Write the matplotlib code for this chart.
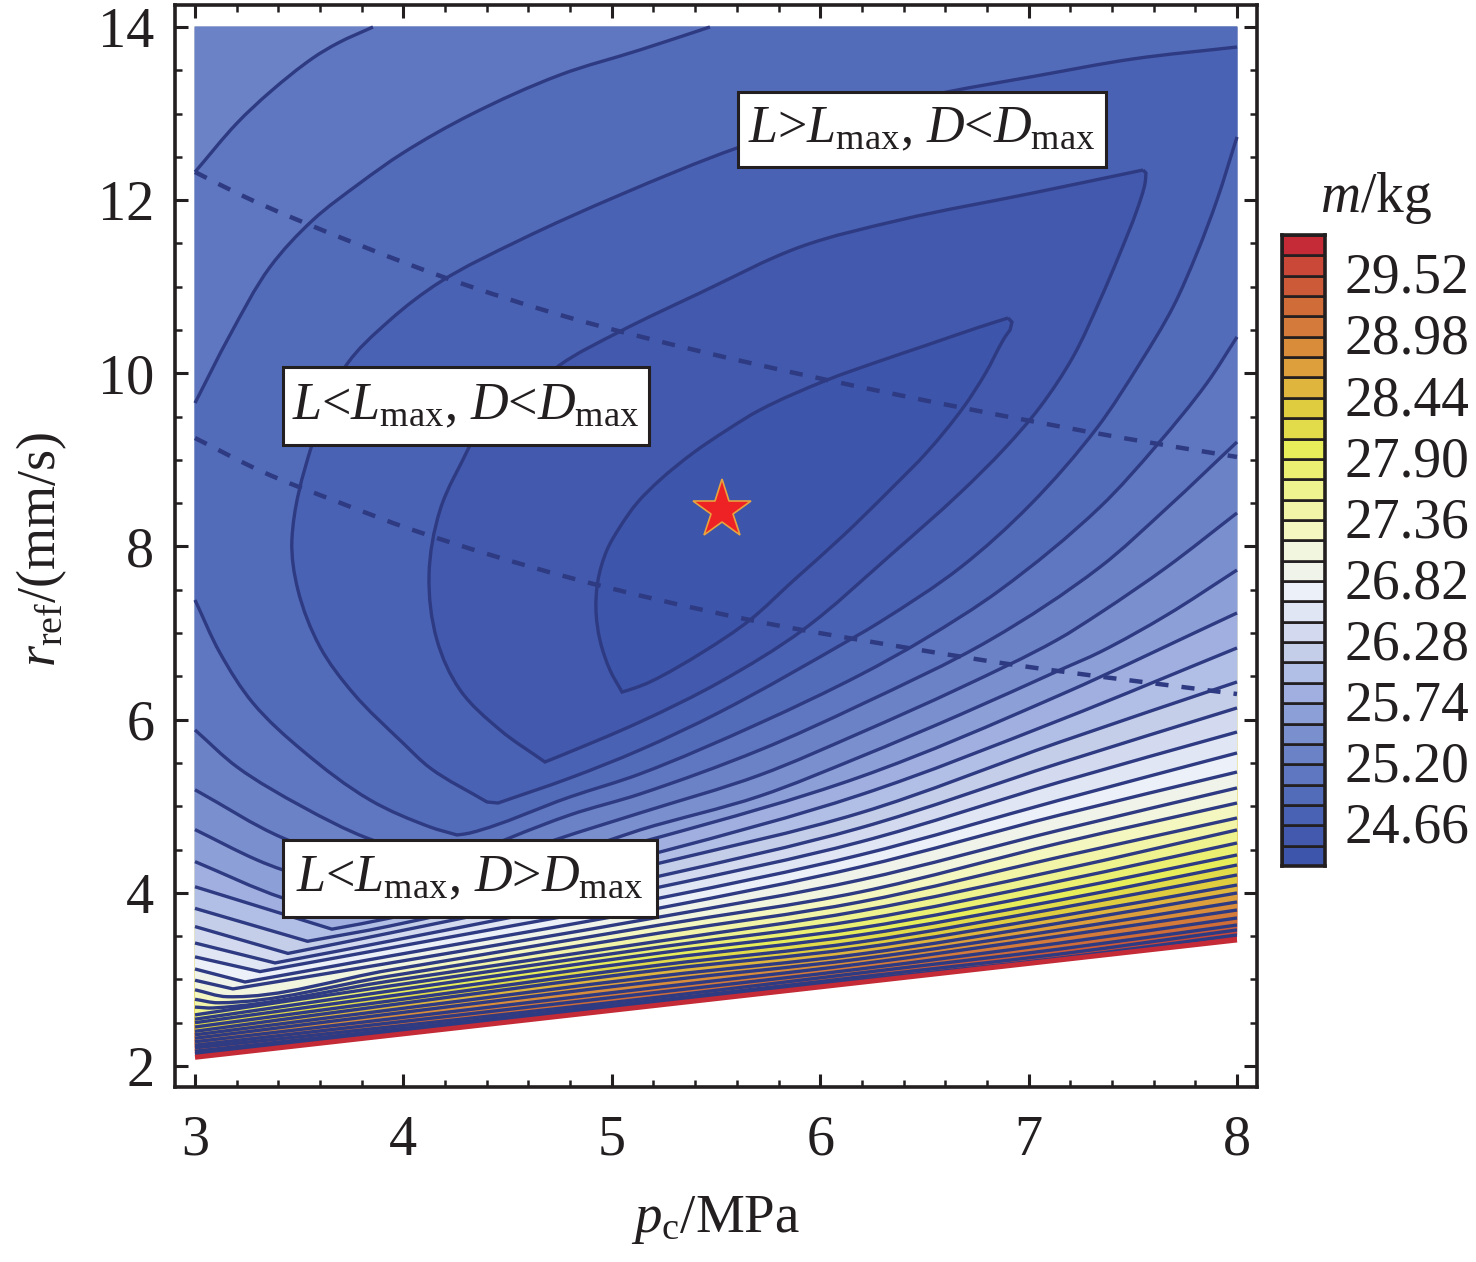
import math
import matplotlib
matplotlib.use('Agg')
import matplotlib.pyplot as plt
from matplotlib.patches import Rectangle, PathPatch
from matplotlib.path import Path
from matplotlib.ticker import MultipleLocator
from matplotlib.transforms import ScaledTranslation

plt.rcParams['font.family'] = ['Liberation Serif', 'DejaVu Serif']
plt.rcParams['mathtext.fontset'] = 'custom'
plt.rcParams['mathtext.rm'] = 'Liberation Serif'
plt.rcParams['mathtext.it'] = 'Liberation Serif:italic'

# colour bar
levels = [24.30, 24.48, 24.66, 24.84, 25.02, 25.20, 25.38, 25.56, 25.74, 25.92, 26.10,
          26.28, 26.46, 26.64, 26.82, 27.00, 27.18, 27.36, 27.54, 27.72, 27.90,
          28.08, 28.26, 28.44, 28.62, 28.80, 28.98, 29.16, 29.34, 29.52, 29.70, 29.88]
colors = ['#3d55ab', '#4259ad', '#4a62b4', '#526cba', '#5f77c0', '#6b82c6', '#7a8fcd', '#8d9fd7',
          '#a0afe0', '#b1bee5', '#c4cee9', '#d3daf0', '#e0e6f4', '#ecf0f8', '#eff3ea', '#f3f6df',
          '#f5f7c0', '#f2f4a8', '#eef38f', '#ebf073', '#e8ee5a', '#e3dc4a', '#e0cd3f', '#dfb53e',
          '#dd9f3c', '#d98d3a', '#d47a3a', '#cf6c38', '#cc5a38', '#c94838', '#c42b36']
cbar_ticks = [24.66, 25.20, 25.74, 26.28, 26.82, 27.36, 27.90, 28.44, 28.98, 29.52]
cbar_labels = ['24.66', '25.20', '25.74', '26.28', '26.82', '27.36', '27.90', '28.44', '28.98', '29.52']

# inner closed contours
l1_pc = [6.901, 6.920, 6.911, 6.887, 6.791, 6.685, 6.513, 6.349, 6.109, 5.869, 5.663, 5.438, 5.183, 5.111, 5.049,
         4.991, 4.943, 4.924, 4.934, 4.977, 5.039, 5.121, 5.231, 5.390, 5.553, 5.711, 6.033, 6.273, 6.513, 6.752, 6.901]
l1_r = [10.639, 10.593, 10.500, 10.420, 9.992, 9.600, 9.091, 8.687, 8.122, 7.601, 7.151, 6.782, 6.435, 6.366, 6.319,
        6.574, 6.920, 7.267, 7.613, 7.960, 8.225, 8.502, 8.768, 9.080, 9.346, 9.577, 9.923, 10.131, 10.327, 10.524, 10.639]
l2_pc = [7.549, 7.563, 7.559, 7.520, 7.439, 7.343, 7.213, 7.055, 6.887, 6.671, 6.349, 5.917, 5.519, 5.135, 4.727, 4.679,
         4.464, 4.272, 4.161, 4.123, 4.176, 4.320, 4.751, 5.025, 5.423, 5.903, 6.383, 7.021, 7.549]
l2_r = [12.348, 12.314, 12.198, 11.886, 11.390, 10.847, 10.189, 9.611, 9.138, 8.618, 7.925, 7.036, 6.435, 5.973, 5.557, 5.511,
        5.880, 6.342, 6.920, 7.671, 8.422, 9.172, 10.096, 10.466, 10.928, 11.459, 11.771, 12.083, 12.348]
l3_pc = [8.0, 7.501, 7.021, 6.608, 6.143, 5.601, 5.039, 4.560, 4.176, 3.936, 3.720, 3.561, 3.465, 3.494, 3.600, 3.758,
         3.998, 4.128, 4.401, 4.454, 4.799, 5.135, 5.519, 6.157, 6.287, 6.671, 7.007, 7.328, 7.535, 7.693, 7.808, 7.904, 8.0]
l3_r = [13.769, 13.631, 13.428, 13.249, 13.007, 12.603, 12.060, 11.540, 11.055, 10.616, 10.073, 9.172, 8.075, 7.497, 6.839, 6.308,
        5.730, 5.442, 5.049, 5.037, 5.326, 5.650, 6.088, 6.943, 7.128, 7.754, 8.480, 9.369, 10.119, 10.766, 11.390, 12.002, 12.730]

# contours in two pieces
l4_up_pc = [3.0, 3.168, 3.360, 3.566, 3.792, 3.998, 4.320, 4.751, 5.135, 5.471]
l4_up_r = [9.657, 10.443, 11.228, 11.771, 12.198, 12.545, 12.984, 13.446, 13.735, 14.0]
l4_low_pc = [3.0, 3.120, 3.278, 3.518, 3.840, 4.128, 4.257, 4.320, 4.799, 5.135, 5.711, 6.191, 6.493, 6.863, 7.343, 7.616, 7.856, 8.0]
l4_low_r = [7.382, 6.770, 6.192, 5.638, 5.072, 4.760, 4.668, 4.691, 5.107, 5.373, 5.961, 6.516, 6.920, 7.497, 8.456, 9.172, 9.888, 10.420]
l5_up_pc = [3.0, 3.202, 3.360, 3.566, 3.686, 3.854]
l5_up_r = [12.325, 12.891, 13.249, 13.642, 13.815, 14.0]
l5_low_pc = [3.0, 3.202, 3.518, 3.825, 4.224, 4.799, 5.135, 5.711, 6.191, 6.815, 7.343, 7.664, 8.0]
l5_low_r = [5.881, 5.453, 4.991, 4.633, 4.356, 4.899, 5.141, 5.650, 6.169, 6.920, 7.763, 8.445, 9.207]

# single lines across the plot
l6_pc = [3.0, 3.422, 4.128, 4.727, 5.135, 5.711, 6.191, 6.671, 7.136, 7.343, 7.664, 8.0]
l6_r = [5.19, 4.633, 4.090, 4.610, 4.922, 5.361, 5.846, 6.366, 6.920, 7.232, 7.763, 8.387]
l7_pc = [3.0, 3.298, 3.422, 3.984, 4.991, 5.135, 5.711, 6.191, 6.671, 7.151, 7.343, 7.664, 8.0]
l7_r = [4.73, 4.379, 4.264, 3.883, 4.610, 4.726, 5.118, 5.569, 6.057, 6.574, 6.781, 7.209, 7.728]
l8_pc = [3.0, 3.422, 3.744, 5.231, 6.191, 7.151, 8.0]
l8_r = [4.36, 3.940, 3.744, 4.645, 5.338, 6.285, 7.232]

# the dense fan at the bottom, levels 9 to 30, read along fixed pc columns
fan_left = [4.07, 3.82, 3.61, 3.42, 3.26, 3.12, 2.99, 2.88, 2.77, 2.68, 2.59,
            2.54, 2.50, 2.45, 2.40, 2.36, 2.32, 2.28, 2.24, 2.21, 2.17, 2.14]
kink_pc = [3.657, 3.54, 3.446, 3.384, 3.312, 3.240, 3.182, 3.154, 3.110, 3.086]
kink_r = [3.58, 3.44, 3.30, 3.19, 3.09, 2.97, 2.89, 2.80, 2.73, 2.67]
fan_pc = [3.936, 5.231, 6.191, 7.151, 8.0]
fan_394 = [3.709, 3.617, 3.536, 3.443, 3.363, 3.270, 3.189, 3.108, 3.039, 2.981, 2.924,
           2.866, 2.808, 2.751, 2.704, 2.647, 2.600, 2.543, 2.497, 2.451, 2.416, 2.392]
fan_523 = [4.471, 4.344, 4.194, 4.067, 3.940, 3.825, 3.721, 3.628, 3.536, 3.443, 3.374,
           3.305, 3.236, 3.166, 3.109, 3.039, 2.981, 2.912, 2.854, 2.797, 2.762, 2.739]
fan_619 = [5.130, 4.922, 4.749, 4.587, 4.437, 4.298, 4.148, 4.009, 3.894, 3.790, 3.686,
           3.594, 3.513, 3.432, 3.363, 3.293, 3.236, 3.178, 3.120, 3.074, 3.028, 2.993]
fan_715 = [5.996, 5.742, 5.499, 5.280, 5.072, 4.899, 4.725, 4.575, 4.414, 4.264, 4.136,
           4.021, 3.917, 3.825, 3.732, 3.651, 3.571, 3.501, 3.420, 3.351, 3.293, 3.247]
fan_800 = [6.828, 6.435, 6.135, 5.857, 5.615, 5.395, 5.211, 5.037, 4.864, 4.726, 4.575,
           4.437, 4.321, 4.206, 4.090, 3.998, 3.894, 3.801, 3.709, 3.628, 3.571, 3.513]

# lower limit of the data and the two dashed limits
edge_pc = [3.0, 8.0]
edge_r = [2.10, 3.455]
dash1_pc = [3.0, 3.240, 3.470, 4.204, 4.785, 5.438, 6.033, 6.685, 7.453, 8.0]
dash1_r = [12.325, 12.037, 11.794, 11.101, 10.651, 10.246, 9.923, 9.600, 9.253, 9.034]
dash2_pc = [3.0, 3.326, 3.686, 4.046, 4.785, 5.663, 6.421, 6.935, 8.0]
dash2_r = [9.253, 8.860, 8.514, 8.190, 7.648, 7.151, 6.828, 6.631, 6.296]
best_pc = 5.529
best_r = 8.42

line_color = '#2e3a82'
ink = '#231f20'
W = 1476.0
H = 1262.0
LW = 2.4
# pixels per data unit, only used to judge corners when bending the lines
SX = 208.4
SY = 86.6


def unit(dx, dy):
    n = math.hypot(dx, dy)
    if n == 0:
        return 0.0, 0.0
    return dx / n, dy / n


# bezier segments through the read points, sharp corners stay sharp
def curve_segments(xs, ys):
    n = len(xs)
    px = [x * SX for x in xs]
    py = [y * SY for y in ys]
    t_in = [None] * n
    t_out = [None] * n
    for i in range(n):
        if i == 0:
            t_in[i] = t_out[i] = unit(px[1] - px[0], py[1] - py[0])
        elif i == n - 1:
            t_in[i] = t_out[i] = unit(px[i] - px[i - 1], py[i] - py[i - 1])
        else:
            d1 = unit(px[i] - px[i - 1], py[i] - py[i - 1])
            d2 = unit(px[i + 1] - px[i], py[i + 1] - py[i])
            if d1[0] * d2[0] + d1[1] * d2[1] < 0.93:
                t_in[i] = d1
                t_out[i] = d2
            else:
                t_in[i] = t_out[i] = unit(d1[0] + d2[0], d1[1] + d2[1])
    verts = []
    for i in range(n - 1):
        h = math.hypot(px[i + 1] - px[i], py[i + 1] - py[i]) / 3
        verts.append(((px[i] + t_out[i][0] * h) / SX, (py[i] + t_out[i][1] * h) / SY))
        verts.append(((px[i + 1] - t_in[i + 1][0] * h) / SX, (py[i + 1] - t_in[i + 1][1] * h) / SY))
        verts.append((xs[i + 1], ys[i + 1]))
    return verts


def line_path(xs, ys):
    seg = curve_segments(xs, ys)
    return Path([(xs[0], ys[0])] + seg, [Path.MOVETO] + [Path.CURVE4] * len(seg))


# pieces are (xs, ys) curves, joined by straight runs, then closed
def fill_path(pieces):
    verts = []
    codes = []
    for xs, ys in pieces:
        verts.append((xs[0], ys[0]))
        codes.append(Path.LINETO if verts[:-1] else Path.MOVETO)
        if len(xs) > 1:
            seg = curve_segments(xs, ys)
            verts += seg
            codes += [Path.CURVE4] * len(seg)
    verts.append(verts[0])
    codes.append(Path.CLOSEPOLY)
    return Path(verts, codes)


def draw_fill(ax, pieces, color):
    ax.add_patch(PathPatch(fill_path(pieces), fc=color, ec=color, lw=0.3))


def draw_line(ax, xs, ys, lw=LW, ls='-'):
    ax.add_patch(PathPatch(line_path(xs, ys), fill=False, ec=line_color, lw=lw, ls=ls, capstyle='butt', zorder=3))


fig = plt.figure(figsize=(14.76, 12.62), dpi=100)
ax = fig.add_axes([175 / W, 1 - 1087 / H, 1082 / W, 1082 / H])

# paint from the highest level down, each fill covers everything below its level
ax.fill([3.0, 8.0, 8.0, 3.0], [edge_r[0], edge_r[1], 14.0, 14.0], color=colors[30], lw=0)

fan_lines = []
for i in range(len(fan_left)):
    xs = [3.0]
    ys = [fan_left[i]]
    if i < len(kink_pc):
        xs.append(kink_pc[i])
        ys.append(kink_r[i])
    xs = xs + fan_pc
    ys = ys + [fan_394[i], fan_523[i], fan_619[i], fan_715[i], fan_800[i]]
    fan_lines.append((xs, ys))

open_lines = [(l6_pc, l6_r), (l7_pc, l7_r), (l8_pc, l8_r)] + fan_lines
for n in range(len(open_lines) - 1, -1, -1):
    xs, ys = open_lines[n]
    draw_fill(ax, [(xs, ys), ([8.0], [14.0]), ([3.0], [14.0])], colors[n + 5])

draw_fill(ax, [(l5_low_pc, l5_low_r), ([8.0], [14.0]), (l5_up_pc[::-1], l5_up_r[::-1])], colors[4])
draw_fill(ax, [(l4_low_pc, l4_low_r), ([8.0], [14.0]), (l4_up_pc[::-1], l4_up_r[::-1])], colors[3])
draw_fill(ax, [(l3_pc, l3_r)], colors[2])
draw_fill(ax, [(l2_pc, l2_r)], colors[1])
draw_fill(ax, [(l1_pc, l1_r)], colors[0])

for xs, ys in open_lines:
    draw_line(ax, xs, ys)
for xs, ys in [(l5_low_pc, l5_low_r), (l5_up_pc, l5_up_r), (l4_low_pc, l4_low_r), (l4_up_pc, l4_up_r),
               (l3_pc, l3_r), (l2_pc, l2_r), (l1_pc, l1_r)]:
    draw_line(ax, xs, ys)

ax.plot(edge_pc, edge_r, color=colors[30], lw=3.6, solid_capstyle='butt', zorder=4)
draw_line(ax, dash1_pc, dash1_r, lw=3.2, ls=(0, (2.95, 2.95)))
draw_line(ax, dash2_pc, dash2_r, lw=3.2, ls=(0, (2.95, 2.95)))
ax.plot([best_pc], [best_r], marker='*', ms=44, mfc='#ee2125', mec='#e8a33d', mew=1.2, ls='none', zorder=6)

# region labels
boxes = [(5.606, 12.383, 1.765, 0.866, r'$L$>$L_{\mathrm{max}}$, $D$<$D_{\mathrm{max}}$'),
         (3.422, 9.172, 1.757, 0.901, r'$L$<$L_{\mathrm{max}}$, $D$<$D_{\mathrm{max}}$'),
         (3.422, 3.721, 1.795, 0.889, r'$L$<$L_{\mathrm{max}}$, $D$>$D_{\mathrm{max}}$')]
for x0, y0, w, h, txt in boxes:
    ax.add_patch(Rectangle((x0, y0), w, h, fc='white', ec=ink, lw=2.2, zorder=7))
    ax.text(x0 + w / 2, y0 + h / 2, txt, ha='center', va='center', fontsize=37.5, color=ink, zorder=8)

ax.set_xlim(2.904, 8.096)
ax.set_ylim(1.757, 14.254)
ax.set_xticks([3, 4, 5, 6, 7, 8])
ax.set_yticks([2, 4, 6, 8, 10, 12, 14])
ax.xaxis.set_minor_locator(MultipleLocator(0.2))
ax.yaxis.set_minor_locator(MultipleLocator(0.5))
ax.tick_params(which='major', direction='in', length=9.5, width=2.2, top=True, right=True,
               labelsize=40.5, colors=ink)
ax.tick_params(axis='x', which='major', pad=20)
ax.tick_params(axis='y', which='major', pad=15)
ax.tick_params(which='minor', direction='in', length=5, width=1.8, top=True, right=True, colors=ink)
for s in ax.spines.values():
    s.set_linewidth(2.6)
    s.set_color(ink)

ax.set_xlabel(r'$p_{\mathrm{c}}$/MPa', fontsize=39.5, color=ink)
ax.set_ylabel(r'$r_{\mathrm{ref}}$/(mm/s)', fontsize=39, color=ink)
ax.xaxis.set_label_coords(0.5, -0.099)
ax.yaxis.set_label_coords(-0.098, 0.497)

# colour bar
cax = fig.add_axes([1282 / W, 1 - 866 / H, 43 / W, 631 / H])
for i in range(len(colors)):
    cax.add_patch(Rectangle((0, levels[i]), 1, levels[i + 1] - levels[i], fc=colors[i], ec=ink, lw=1.9))
cax.set_xlim(0, 1)
cax.set_ylim(levels[0], levels[-1])
cax.set_xticks([])
cax.yaxis.tick_right()
cax.set_yticks(cbar_ticks)
cax.set_yticklabels(cbar_labels)
cax.tick_params(axis='y', length=0, labelsize=40, colors=ink, pad=14)
for lab in cax.get_yticklabels():
    lab.set_transform(lab.get_transform() + ScaledTranslation(0, 2 / 72, fig.dpi_scale_trans))
for s in cax.spines.values():
    s.set_linewidth(2.6)
    s.set_color(ink)
fig.text(1376 / W, 1 - 198 / H, r'$m$/kg', fontsize=40, color=ink, ha='center', va='center')

fig.savefig('out.png', dpi=100)
